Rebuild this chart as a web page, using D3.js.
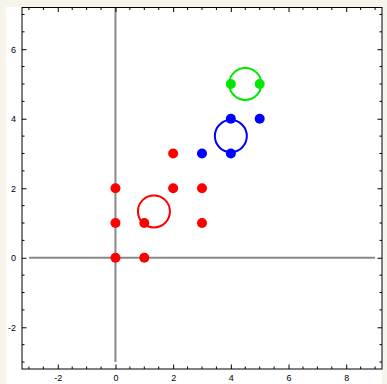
<!DOCTYPE html>
<html>
<head>
<meta charset="utf-8">
<script src="https://cdn.jsdelivr.net/npm/d3@7"></script>
<style>
  html, body { margin: 0; padding: 0; background: #f7f4ec; }
  svg { display: block; }
</style>
</head>
<body>
<script>
// Point groups
const redPoints = [[0,0],[1,0],[0,1],[1,1],[0,2],[2,2],[3,2],[3,1],[2,3]];
const bluePoints = [[3,3],[4,3],[4,4],[5,4]];
const greenPoints = [[4,5],[5,5]];
const groupColors = ["#ff0000", "#0000ff", "#00e800"];
const groups = [redPoints, bluePoints, greenPoints];

// Axis ranges and ticks
const xDomain = [-3.24, 9.24];
const yDomain = [-3.2, 7.2];
const xMajor = [-2, 0, 2, 4, 6, 8];
const yMajor = [-2, 0, 2, 4, 6];

const W = 387, H = 384;
const frame = { left: 22, right: 382, top: 7.5, bottom: 369 };

const svg = d3.select("body").append("svg").attr("width", W).attr("height", H);

// white panel behind the plot and tick labels
svg.append("rect").attr("x", 6).attr("y", 7).attr("width", frame.right - 6).attr("height", H - 7)
  .attr("fill", "#ffffff");

const x = d3.scaleLinear().domain(xDomain).range([frame.left, frame.right]);
const y = d3.scaleLinear().domain(yDomain).range([frame.bottom, frame.top]);

const plot = svg.append("g");
plot.append("clipPath").attr("id", "clip").append("rect")
  .attr("x", frame.left).attr("y", frame.top)
  .attr("width", frame.right - frame.left).attr("height", frame.bottom - frame.top);
const inner = plot.append("g").attr("clip-path", "url(#clip)");

// coordinate axes through the origin
inner.append("line").attr("x1", x(-3)).attr("x2", x(9)).attr("y1", y(0)).attr("y2", y(0))
  .attr("stroke", "#888").attr("stroke-width", 2);
inner.append("line").attr("x1", x(0)).attr("x2", x(0)).attr("y1", y(-3)).attr("y2", y(7.5))
  .attr("stroke", "#888").attr("stroke-width", 2);

// points
groups.forEach((pts, i) => {
  inner.append("g").selectAll("circle").data(pts).join("circle")
    .attr("cx", d => x(d[0])).attr("cy", d => y(d[1])).attr("r", 5)
    .attr("fill", groupColors[i]);
});

// centroid rings
groups.forEach((pts, i) => {
  const cx = d3.mean(pts, d => d[0]);
  const cy = d3.mean(pts, d => d[1]);
  inner.append("circle").attr("cx", x(cx)).attr("cy", y(cy)).attr("r", 16)
    .attr("fill", "none").attr("stroke", groupColors[i]).attr("stroke-width", 2);
});

// frame ticks: major every 2, minor every 0.5
const xMinor = d3.range(-3, 9.01, 0.5).filter(v => !xMajor.includes(v));
const yMinor = d3.range(-3, 7.01, 0.5).filter(v => !yMajor.includes(v));
const fmt = d => d < 0 ? "-" + Math.abs(d) : String(d);

const axBottom = d3.axisBottom(x).tickValues(xMajor).tickSize(-4.5).tickFormat(fmt).tickPadding(6);
const axTop = d3.axisTop(x).tickValues(xMajor).tickSize(-4.5).tickFormat("");
const axLeft = d3.axisLeft(y).tickValues(yMajor).tickSize(-4.5).tickFormat(fmt).tickPadding(6);
const axRight = d3.axisRight(y).tickValues(yMajor).tickSize(-4.5).tickFormat("");

function styleAxis(g) {
  g.select(".domain").remove();
  g.selectAll("line").attr("stroke", "#000").attr("stroke-width", 1);
  g.selectAll("text").attr("font-family", "Liberation Sans, Arial, sans-serif")
    .attr("font-size", 9).attr("fill", "#000");
}
svg.append("g").attr("transform", `translate(0,${frame.bottom})`).call(axBottom).call(styleAxis);
svg.append("g").attr("transform", `translate(0,${frame.top})`).call(axTop).call(styleAxis);
svg.append("g").attr("transform", `translate(${frame.left},0)`).call(axLeft).call(styleAxis);
svg.append("g").attr("transform", `translate(${frame.right},0)`).call(axRight).call(styleAxis);

const minorX = [[frame.bottom, -1], [frame.top, 1]];
minorX.forEach(([yy, dir]) => {
  svg.append("g").selectAll("line").data(xMinor).join("line")
    .attr("x1", d => x(d)).attr("x2", d => x(d))
    .attr("y1", yy).attr("y2", yy + dir * 2.5)
    .attr("stroke", "#000").attr("stroke-width", 1);
});
const minorY = [[frame.left, 1], [frame.right, -1]];
minorY.forEach(([xx, dir]) => {
  svg.append("g").selectAll("line").data(yMinor).join("line")
    .attr("y1", d => y(d)).attr("y2", d => y(d))
    .attr("x1", xx).attr("x2", xx + dir * 2.5)
    .attr("stroke", "#000").attr("stroke-width", 1);
});

// frame border
svg.append("rect").attr("x", frame.left).attr("y", frame.top)
  .attr("width", frame.right - frame.left).attr("height", frame.bottom - frame.top)
  .attr("fill", "none").attr("stroke", "#000").attr("stroke-width", 1);
</script>
</body>
</html>
